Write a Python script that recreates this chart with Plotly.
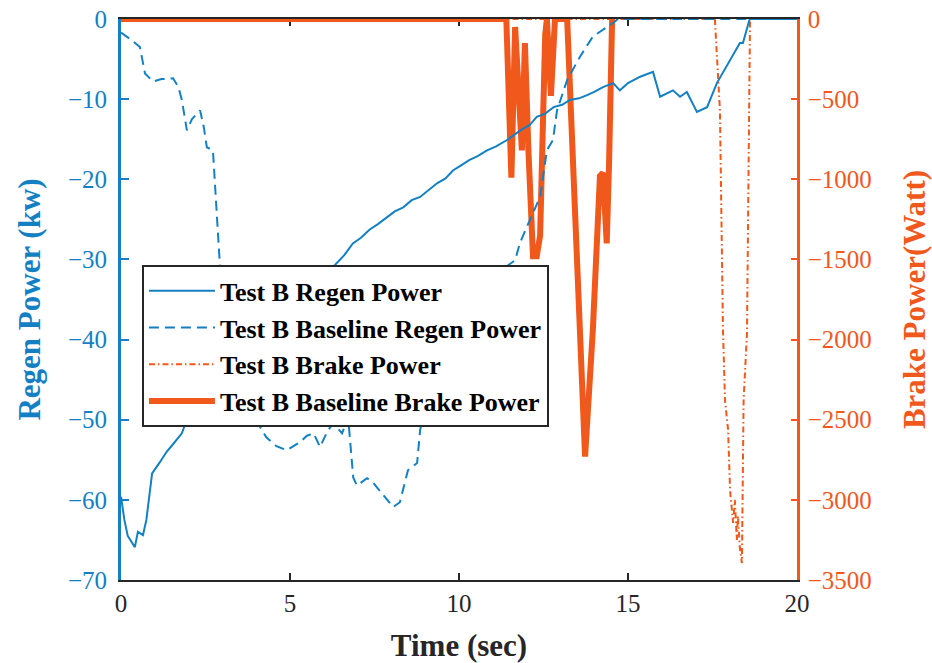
import plotly.graph_objects as go

# ---------------- data ----------------
time_regen = [0, 0.1, 0.2, 0.41, 0.5, 0.65, 0.75, 0.92, 1.15, 1.35, 1.55, 1.8, 2.0, 2.3, 2.7,
              3.2, 3.7, 4.2, 4.7, 5.2, 5.7, 6.33, 6.6, 6.86, 7.1, 7.35, 7.6, 7.87, 8.1, 8.35,
              8.6, 8.85, 9.1, 9.35, 9.6, 9.82, 10.05, 10.3, 10.55, 10.83, 11.1, 11.42, 11.85,
              12.1, 12.3, 12.55, 12.8, 13.05, 13.28, 13.55, 13.79, 14.0, 14.26, 14.56, 14.76,
              15.0, 15.36, 15.74, 15.95, 16.33, 16.54, 16.74, 17.04, 17.34, 17.63, 18.02,
              18.31, 18.4, 18.6, 20]
regen_power = [-59.6, -62.5, -64.5, -65.9, -64.0, -64.4, -62.5, -56.7, -55.3, -54.0, -53.0,
               -51.7, -49.4, -47.0, -44.5, -42.0, -40.0, -38.0, -36.0, -34.5, -32.8, -30.7,
               -29.5, -28.0, -27.3, -26.3, -25.6, -24.7, -24.0, -23.5, -22.6, -22.2, -21.3,
               -20.5, -19.9, -18.9, -18.3, -17.6, -17.1, -16.4, -15.9, -15.1, -13.8, -13.2,
               -12.2, -11.8, -11.0, -10.7, -10.1, -9.9, -9.5, -9.1, -8.5, -8.0, -8.9, -8.0,
               -7.2, -6.6, -9.7, -8.9, -9.7, -9.1, -11.6, -11.0, -8.0, -5.1, -3.0, -3.0, 0, 0]

time_regen_base = [0, 0.3, 0.56, 0.62, 0.71, 0.95, 1.2, 1.54, 1.7, 1.8, 1.95, 2.1, 2.34, 2.45,
                   2.54, 2.72, 2.8, 2.93, 3.2, 3.5, 3.75, 3.96, 4.3, 4.6, 4.9, 5.1, 5.3, 5.5,
                   5.7, 5.89, 6.1, 6.28, 6.54, 6.72, 6.87, 6.98, 7.28, 7.45, 7.57, 7.81, 8.05,
                   8.25, 8.49, 8.76, 8.85, 8.93, 9.3, 9.8, 10.3, 10.8, 11.3, 11.66, 11.8, 12.0,
                   12.2, 12.4, 12.6, 12.78, 12.9, 13.2, 13.58, 13.96, 14.38, 14.56, 14.7, 20]
regen_base_power = [-1.7, -2.6, -3.5, -5.0, -6.8, -7.8, -7.5, -7.4, -8.5, -10.1, -13.9, -12.5,
                    -11.4, -13.5, -16.0, -16.4, -22.0, -31.0, -38.0, -44.0, -48.0, -49.8,
                    -52.2, -53.3, -53.8, -53.3, -52.8, -52.0, -51.7, -53.4, -51.5, -50.4,
                    -51.7, -49.7, -57.2, -58.2, -57.3, -57.8, -58.4, -59.7, -60.9, -60.3,
                    -56.3, -55.4, -51.3, -49.7, -45.0, -40.5, -36.5, -33.5, -31.2, -30.1,
                    -28.0, -26.0, -24.2, -22.2, -16.4, -15.1, -11.4, -7.6, -4.7, -2.2, -1.0,
                    -0.5, 0, 0]

time_brake = [0, 17.57, 17.72, 17.81, 17.87, 17.96, 18.02, 18.11, 18.16, 18.22, 18.25, 18.31,
              18.37, 18.42, 18.52, 18.61, 20]
brake_power = [0, 0, -570, -1940, -2380, -2560, -2940, -3144, -3000, -3250, -3100, -3300,
               -3394, -2380, -1960, 0, 0]

time_brake_base = [0, 11.40, 11.55, 11.66, 11.86, 11.95, 12.05, 12.19, 12.3, 12.4, 12.55, 12.6,
                   12.72, 12.84, 13.2, 13.5, 13.73, 13.96, 14.17, 14.26, 14.37, 14.44, 14.53]
brake_base_power = [0, 0, -990, -50, -820, -150, -800, -1480, -1480, -1350, -100, 0, -480, 0,
                    0, -1600, -2730, -1940, -980, -960, -1400, -900, 0]

x_ticks = [0, 5, 10, 15, 20]
regen_ticks = [0, -10, -20, -30, -40, -50, -60, -70]
brake_ticks = [0, -500, -1000, -1500, -2000, -2500, -3000, -3500]

# ---------------- style ----------------
BLUE = "#1380C4"
ORANGE = "#F0581C"
DARK = "#262626"
FONT = "Liberation Serif"

fig = go.Figure()
fig.add_trace(go.Scatter(x=time_brake_base, y=brake_base_power, mode="lines",
                         name="Test B Baseline Brake Power", yaxis="y", legendrank=4,
                         line=dict(color=ORANGE, width=6)))
fig.add_trace(go.Scatter(x=time_brake, y=brake_power, mode="lines",
                         name="Test B Brake Power", yaxis="y", legendrank=3,
                         line=dict(color=ORANGE, width=2, dash="6px,3px,1.5px,3px")))
fig.add_trace(go.Scatter(x=time_regen_base, y=regen_base_power, mode="lines",
                         name="Test B Baseline Regen Power", yaxis="y2", legendrank=2,
                         line=dict(color=BLUE, width=2, dash="10px,6px")))
fig.add_trace(go.Scatter(x=time_regen, y=regen_power, mode="lines",
                         name="Test B Regen Power", yaxis="y2", legendrank=1,
                         line=dict(color=BLUE, width=2)))

fig.update_layout(
    width=932, height=663,
    margin=dict(l=121, r=135, t=19, b=83, autoexpand=False),
    plot_bgcolor="white", paper_bgcolor="white",
    showlegend=True,
    legend=dict(x=0.031, y=0.561, xanchor="left", yanchor="top",
                bgcolor="white", bordercolor=DARK, borderwidth=2,
                itemwidth=66, tracegroupgap=0,
                font=dict(family=FONT, size=26, color="black", weight="bold")),
    xaxis=dict(range=[0, 20], tickvals=x_ticks, ticks="inside", ticklen=7, tickwidth=1.5,
               tickcolor=DARK, showline=True, linecolor=DARK, linewidth=2, mirror="ticks",
               showgrid=False, zeroline=False, layer="below traces", automargin=False,
               tickfont=dict(family=FONT, size=25, color=DARK),
               title=dict(text="Time (sec)", standoff=22,
                          font=dict(family=FONT, size=31, color=DARK, weight="bold"))),
    yaxis=dict(side="right", range=[-3500, 0], tickvals=brake_ticks, ticks="inside",
               ticklen=6, tickwidth=1.5, tickcolor=ORANGE, showline=True, linecolor=ORANGE,
               linewidth=2.5, showgrid=False, zeroline=False, layer="below traces",
               ticklabelstandoff=3, automargin=False,
               tickfont=dict(family=FONT, size=25, color=ORANGE),
               title=dict(text="Brake Power(Watt)", standoff=33,
                          font=dict(family=FONT, size=31, color=ORANGE, weight="bold"))),
    yaxis2=dict(side="left", overlaying="y", range=[-70, 0], tickvals=regen_ticks,
                ticks="inside", ticklen=8, tickwidth=1.5, tickcolor=BLUE, showline=True,
                linecolor=BLUE, linewidth=3, showgrid=False, zeroline=False,
                layer="below traces", ticklabelstandoff=6, automargin=False,
                tickfont=dict(family=FONT, size=25, color=BLUE),
                title=dict(text="Regen Power (kw)", standoff=19,
                           font=dict(family=FONT, size=31, color=BLUE, weight="bold"))),
)

fig.write_html("out.html")
